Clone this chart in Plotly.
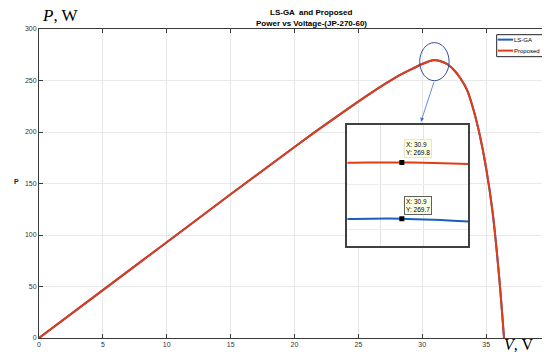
import plotly.graph_objects as go

# P-V curve of JP-270-60
voltage = [0, 5, 10, 15, 20, 22, 24, 26, 27, 28, 29, 30, 30.5, 30.9,
           31.5, 32, 32.5, 33, 33.5, 34, 34.5, 35, 35.5, 36, 36.4]
power_proposed = [0, 46.5, 93, 139.5, 185.5, 203.5, 221, 238, 246, 253.5,
                  260, 266, 268.5, 269.8, 268.5, 265.5, 260, 252, 241,
                  222, 197, 165, 123, 62, 0]
power_lsga = [0, 46.5, 93, 139.5, 185.5, 203.5, 221, 238, 246, 253.5,
              260, 266, 268.5, 269.7, 268.5, 265.5, 260, 252, 241,
              222, 197, 165, 123, 62, 0]

# zoomed view around the maximum power point
zoom_v = [30.6, 30.75, 30.9, 31.05, 31.25]
zoom_proposed = [269.799, 269.8, 269.8, 269.799, 269.797]
zoom_lsga = [269.699, 269.7, 269.7, 269.698, 269.694]

mpp_v = 30.9
mpp_proposed = 269.8
mpp_lsga = 269.7

series_names = ['LS-GA', 'Proposed']
blue = '#1A5FC0'
red = '#E33B14'
tick_font = dict(family='Arial', size=7, color='#333333')

fig = go.Figure()
fig.add_trace(go.Scatter(x=voltage, y=power_lsga, name=series_names[0], mode='lines',
                         line=dict(color=blue, width=2, shape='spline')))
fig.add_trace(go.Scatter(x=voltage, y=power_proposed, name=series_names[1], mode='lines',
                         line=dict(color=red, width=2, shape='spline')))

# inset
fig.add_trace(go.Scatter(x=zoom_v, y=zoom_lsga, mode='lines',
                         line=dict(color=blue, width=2, shape='spline'),
                         xaxis='x2', yaxis='y2'))
fig.add_trace(go.Scatter(x=zoom_v, y=zoom_proposed, mode='lines',
                         line=dict(color=red, width=2, shape='spline'),
                         xaxis='x2', yaxis='y2'))
fig.add_trace(go.Scatter(x=[mpp_v, mpp_v], y=[mpp_proposed, mpp_lsga], mode='markers',
                         marker=dict(symbol='square', size=5, color='black'),
                         xaxis='x2', yaxis='y2'))

# the page has an 8px body margin, so the margins are reduced by 8px
fig.update_layout(
    width=550, height=352,
    margin=dict(l=31, r=8, t=21, b=22),
    paper_bgcolor='white', plot_bgcolor='white',
    showlegend=False,
    xaxis=dict(range=[0, 40], dtick=5, showgrid=True, gridcolor='#E8E8E8',
               showline=True, linecolor='#3A3A3A', linewidth=1, mirror='ticks',
               ticks='inside', ticklen=4, tickcolor='#3A3A3A',
               tickfont=tick_font, zeroline=False, automargin=False),
    yaxis=dict(range=[0, 300], dtick=50, showgrid=True, gridcolor='#E8E8E8',
               showline=True, linecolor='#3A3A3A', linewidth=1, mirror='ticks',
               ticks='inside', ticklen=4, tickcolor='#3A3A3A',
               tickfont=tick_font, zeroline=False, automargin=False),
    xaxis2=dict(domain=[0.6036, 0.8402], anchor='y2', range=[30.648, 31.208],
                tickvals=[30.8, 31.0], showticklabels=False, showgrid=True,
                gridcolor='#E4E4E4', showline=True, linecolor='#404040',
                linewidth=1.5, mirror=True, ticks='', zeroline=False),
    yaxis2=dict(domain=[0.2987, 0.690], anchor='x2', range=[269.652, 269.867],
                tickvals=[269.68, 269.76], showticklabels=False, showgrid=True,
                gridcolor='#EDEDED', showline=True, linecolor='#404040',
                linewidth=1.5, mirror=True, ticks='', zeroline=False),
)

# hand-made legend (matlab style, short line samples)
fig.add_shape(type='rect', xref='paper', yref='paper', x0=0.8957, x1=0.9916,
              y0=0.9104, y1=0.9816, line=dict(color='#222', width=1), fillcolor='white')
for i, (name, col) in enumerate(zip(series_names, [blue, red])):
    ly = 0.9656 - i * 0.0356
    fig.add_shape(type='line', xref='paper', yref='paper', x0=0.8977, x1=0.9280,
                  y0=ly, y1=ly, line=dict(color=col, width=2))
    fig.add_annotation(x=0.9285, y=ly, xref='paper', yref='paper', text=name,
                       showarrow=False, xanchor='left', yanchor='middle', borderpad=0,
                       font=dict(family='Arial', size=6, color='black'))

# circle around the maximum power point and arrow to the inset
fig.add_shape(type='circle', xref='x', yref='y',
              x0=mpp_v - 1.1, x1=mpp_v + 1.2, y0=mpp_proposed - 20, y1=mpp_proposed + 17,
              line=dict(color='#34509A', width=1))
fig.add_annotation(x=29.9, y=210, ax=30.95, ay=mpp_proposed - 20,
                   xref='x', yref='y', axref='x', ayref='y', text='',
                   showarrow=True, arrowhead=2, arrowsize=1, arrowwidth=0.8,
                   arrowcolor='#3F6FD0')

# datatips
for yv, border in [(mpp_proposed, '#E6E6CC'), (mpp_lsga, '#606060')]:
    fig.add_annotation(x=mpp_v, y=yv, xref='x2', yref='y2',
                       text=f'X: {mpp_v}<br>Y: {yv}', showarrow=False,
                       xanchor='left', yanchor='bottom', xshift=2, yshift=4,
                       align='left', bgcolor='#FFFFE6', bordercolor=border,
                       borderwidth=1, borderpad=1,
                       font=dict(family='Arial', size=6.5, color='black'))

# titles and axis labels
fig.add_annotation(x=0.533, y=1 + (29.3 - 12.5) / 309, xref='paper', yref='paper',
                   yanchor='middle', text='<b>LS-GA  and Proposed</b>', showarrow=False,
                   font=dict(family='Arial', size=8, color='black'))
fig.add_annotation(x=0.533, y=1 + (29.3 - 24) / 309, xref='paper', yref='paper',
                   yanchor='middle', text='<b>Power vs Voltage-(JP-270-60)</b>',
                   showarrow=False, font=dict(family='Arial', size=8, color='black'))
fig.add_annotation(x=(40 - 38.7) / 511.3, y=1 + (29.3 - 16) / 309, xref='paper', yref='paper',
                   xanchor='left', yanchor='middle', text='<i>P</i>, W', showarrow=False,
                   font=dict(family='Liberation Serif', size=17, color='black'))
fig.add_annotation(x=(502 - 38.7) / 511.3, y=-(345 - 338.3) / 309, xref='paper', yref='paper',
                   xanchor='left', yanchor='middle', text='<i>V</i>, V', showarrow=False,
                   font=dict(family='Liberation Serif', size=16, color='black'))
fig.add_annotation(x=(16 - 38.7) / 511.3, y=(338.3 - 182) / 309, xref='paper', yref='paper',
                   xanchor='center', yanchor='middle', text='<b>P</b>', showarrow=False,
                   font=dict(family='Arial', size=7, color='#222'))

fig.write_html("out.html")
